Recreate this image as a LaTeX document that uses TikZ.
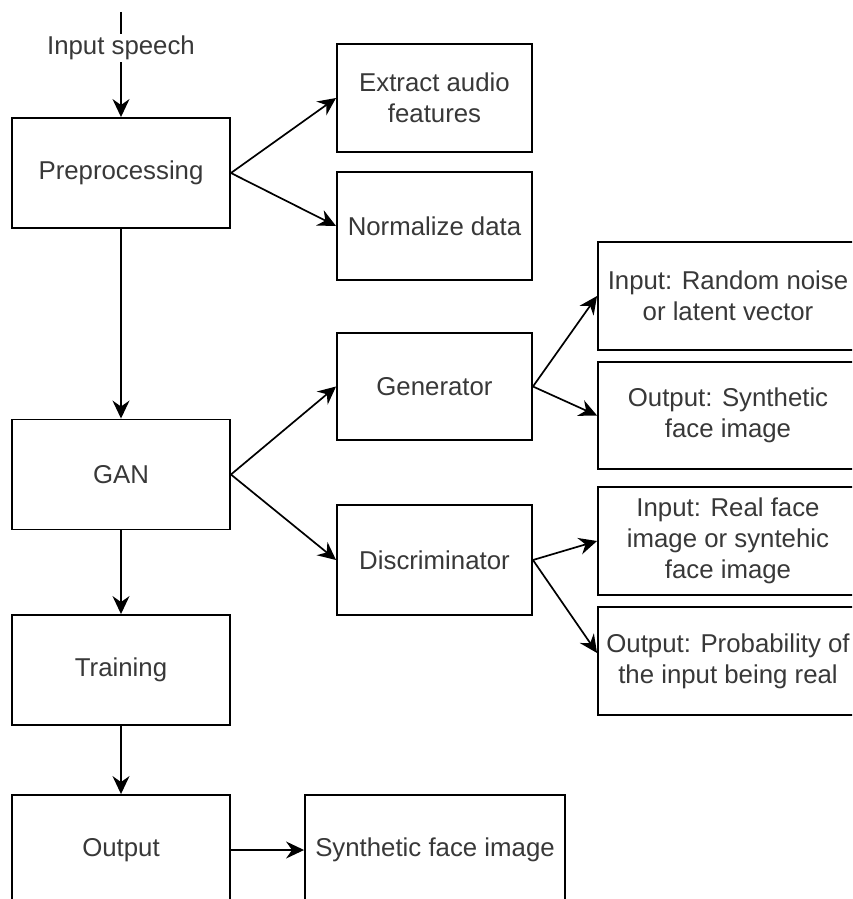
\documentclass[tikz,border=0pt]{standalone}
\usepackage{fontspec}
\setmainfont{Liberation Sans}
\usetikzlibrary{arrows.meta}
\begin{document}
\begin{tikzpicture}[x=1pt,y=-1pt,
  box/.style={draw=black, line width=1.9pt, rectangle, inner sep=0pt, align=center,
    text=black!78, font=\fontsize{25.8}{31}\selectfont},
  lbox/.style={box, minimum width=218pt, minimum height=110pt},
  mbox/.style={box, minimum width=195pt, minimum height=108pt},
  rbox/.style={box, minimum width=260pt, minimum height=108pt},
  conn/.style={draw=black, line width=1.7pt, -{Stealth[length=18pt,width=17pt,inset=6pt]}}]
\useasboundingbox (0,0) rectangle (852,899);
\begin{scope}
\clip (0,0) rectangle (852,899);
\node[lbox] (pre) at (121,173) {Preprocessing};
\node[mbox] (extract) at (434.5,98) {Extract audio\\features};
\node[mbox] (norm) at (434.5,226) {Normalize data};
\node[lbox] (gan) at (121,474.5) {GAN};
\node[mbox, minimum height=107pt] (gen) at (434.5,386.5) {Generator};
\node[mbox, minimum height=110pt] (disc) at (434.5,560) {Discriminator};
\node[lbox] (train) at (121,670) {Training};
\node[lbox] (out) at (121,850) {Output};
\node[rbox, minimum width=260pt, minimum height=110pt] (synth) at (435,850) {Synthetic face image};
\node[rbox] (inrand) at (728,296) {Input: Random noise\\or latent vector};
\node[rbox, minimum height=107pt] (outsyn) at (728,415.5) {Output: Synthetic\\face image};
\node[rbox] (inreal) at (728,541) {Input: Real face\\image or syntehic\\face image};
\node[rbox] (outprob) at (728,661) {Output: Probability of\\the input being real};
\coordinate (start) at (121,12);
\draw[conn] (start) -- node[pos=0.34, fill=white, inner sep=2pt, text=black!78, font=\fontsize{25.8}{31}\selectfont] (inlbl) {Input speech} (pre.north);
\draw[conn] (pre.east) -- (extract.west);
\draw[conn] (pre.east) -- (norm.west);
\draw[conn] (pre.south) -- (gan.north);
\draw[conn] (gan.east) -- (gen.west);
\draw[conn] (gan.east) -- (disc.west);
\draw[conn] (gen.east) -- (inrand.west);
\draw[conn] (gen.east) -- (outsyn.west);
\draw[conn] (disc.east) -- (inreal.west);
\draw[conn] (disc.east) -- ([yshift=8pt]outprob.west);
\draw[conn] (gan.south) -- (train.north);
\draw[conn] (train.south) -- (out.north);
\draw[conn, line width=1.1pt] (out.east) -- (synth.west);
\end{scope}
\end{tikzpicture}
\end{document}
